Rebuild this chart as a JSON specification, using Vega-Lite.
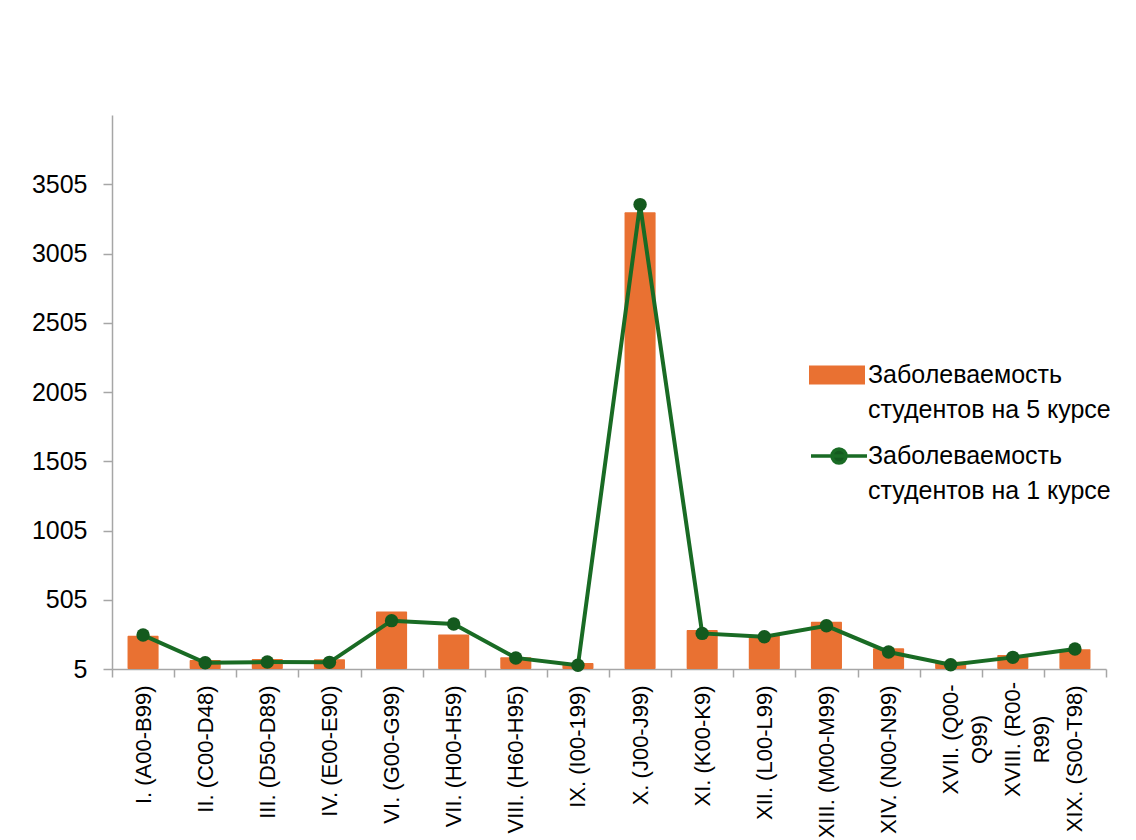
{
  "$schema": "https://vega.github.io/schema/vega-lite/v6.json",
  "width": 994,
  "height": 554,
  "autosize": {"type": "none"},
  "padding": {"left": 112, "top": 115, "right": 30, "bottom": 171},
  "background": "white",
  "config": {
    "view": {"stroke": null},
    "font": "Liberation Sans"
  },
  "data": {
    "values": [
      {"cat": "I. (A00-B99)", "v5": 245, "v1": 250},
      {"cat": "II. (C00-D48)", "v5": 70, "v1": 50},
      {"cat": "III. (D50-D89)", "v5": 77, "v1": 55},
      {"cat": "IV. (E00-E90)", "v5": 75, "v1": 53},
      {"cat": "VI. (G00-G99)", "v5": 421, "v1": 354},
      {"cat": "VII. (H00-H59)", "v5": 255, "v1": 330},
      {"cat": "VIII. (H60-H95)", "v5": 90, "v1": 85},
      {"cat": "IX. (I00-199)", "v5": 48, "v1": 32},
      {"cat": "X. (J00-J99)", "v5": 3302, "v1": 3358},
      {"cat": "XI. (K00-K9)", "v5": 286, "v1": 262},
      {"cat": "XII. (L00-L99)", "v5": 250, "v1": 238},
      {"cat": "XIII. (M00-M99)", "v5": 346, "v1": 317},
      {"cat": "XIV. (N00-N99)", "v5": 154, "v1": 128},
      {"cat": "XVII. (Q00-Q99)", "v5": 58, "v1": 36},
      {"cat": "XVIII. (R00-R99)", "v5": 106, "v1": 89},
      {"cat": "XIX. (S00-T98)", "v5": 147, "v1": 150}
    ]
  },
  "encoding": {
    "x": {
      "field": "cat",
      "type": "nominal",
      "sort": null,
      "scale": {"paddingInner": 0, "paddingOuter": 0},
      "axis": {
        "title": null,
        "labelAngle": -90,
        "labelAlign": {"condition": {"test": "datum.value == 'XVII. (Q00-Q99)' || datum.value == 'XVIII. (R00-R99)'", "value": "center"}, "value": "right"},
        "labelPadding": {"condition": {"test": "datum.value == 'XVII. (Q00-Q99)' || datum.value == 'XVIII. (R00-R99)'", "value": 62}, "value": 8},
        "labelBaseline": "middle",
        "labelFontSize": 22,
        "labelColor": "#000000",
        "labelLimit": 200,
        "labelLineHeight": 29,
        "labelExpr": "datum.label == 'XVII. (Q00-Q99)' ? ['XVII. (Q00-', 'Q99)'] : datum.label == 'XVIII. (R00-R99)' ? ['XVIII. (R00-', 'R99)'] : datum.label",
        "tickBand": "extent",
        "tickSize": 8,
        "tickColor": "#a6a6a6",
        "tickWidth": 1.5,
        "domainColor": "#a6a6a6",
        "domainWidth": 1.5,
        "grid": false
      }
    }
  },
  "layer": [
    {
      "mark": {"type": "bar", "cornerRadius": 1, "width": {"band": 0.5}},
      "encoding": {
        "y": {
          "field": "v5",
          "type": "quantitative",
          "scale": {"domain": [5, 4005], "nice": false, "zero": false},
          "axis": {
            "title": null,
            "values": [5, 505, 1005, 1505, 2005, 2505, 3005, 3505],
            "format": "d",
            "labelFontSize": 25,
            "labelColor": "#000000",
            "labelPadding": 16,
            "tickSize": 9,
            "tickColor": "#a6a6a6",
            "tickWidth": 1.5,
            "domainColor": "#a6a6a6",
            "domainWidth": 1.5,
            "grid": false
          }
        },
        "y2": {"datum": 5},
        "fill": {
          "datum": "Заболеваемость студентов на 5 курсе",
          "scale": {"range": ["#E97132"]},
          "legend": {
            "title": null,
            "orient": "none",
            "legendX": 697,
            "legendY": 232,
            "padding": 0,
            "symbolType": "M-1,-0.34H1V0.34H-1Z",
            "symbolSize": 3136,
            "symbolStrokeWidth": 0,
            "labelFontSize": 25,
            "labelColor": "#000000",
            "labelOffset": 3,
            "labelLimit": 400,
            "labelExpr": "[slice(datum.label, 0, 14), slice(datum.label, 15)]",
            "encode": {"labels": {"update": {"lineHeight": {"value": 35}}}}
          }
        }
      }
    },
    {
      "mark": {"type": "line", "strokeWidth": 4},
      "encoding": {
        "y": {"field": "v1", "type": "quantitative"},
        "stroke": {
          "datum": "Заболеваемость студентов на 1 курсе",
          "scale": {"range": ["#196B24"]},
          "legend": {
            "title": null,
            "orient": "none",
            "legendX": 697,
            "legendY": 311,
            "padding": 0,
            "symbolType": "M-1,0H1M0.25,0A0.25,0.25 0 1,1 -0.25,0A0.25,0.25 0 1,1 0.25,0",
            "symbolSize": 3136,
            "symbolStrokeWidth": 3.5,
            "symbolFillColor": "#145a1e",
            "labelFontSize": 25,
            "labelColor": "#000000",
            "labelOffset": -1,
            "labelLimit": 400,
            "labelExpr": "[slice(datum.label, 0, 14), slice(datum.label, 15)]",
            "encode": {"labels": {"update": {"lineHeight": {"value": 35}}}}
          }
        }
      }
    },
    {
      "mark": {"type": "point", "filled": true, "size": 180, "color": "#145a1e", "opacity": 1},
      "encoding": {
        "y": {"field": "v1", "type": "quantitative"}
      }
    }
  ]
}
